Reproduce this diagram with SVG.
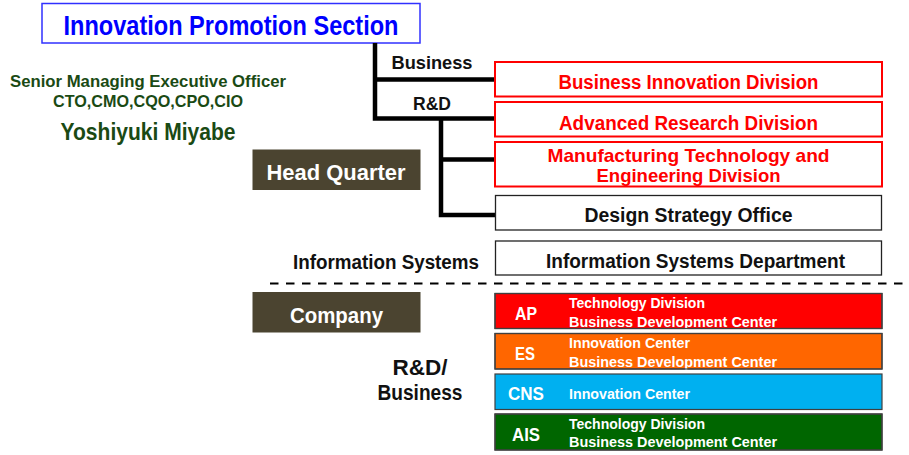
<svg xmlns="http://www.w3.org/2000/svg" width="909" height="455" viewBox="0 0 909 455">
<style>
text{font-family:"Liberation Sans",Arial,sans-serif;font-weight:bold;}
.c{text-anchor:middle;}
.red{fill:#ff0000;}
.blk{fill:#111;}
.wht{fill:#fff;}
.grn{fill:#1a4a14;}
.rbox{fill:#fff;stroke:#ff0000;stroke-width:2;}
.kbox{fill:#fff;stroke:#222;stroke-width:1.3;}
.brown{fill:#4b4430;}
.co{stroke:#404040;stroke-width:1.2;}
.conn{fill:none;stroke:#000;stroke-width:4.5;stroke-linejoin:miter;}
</style>
<rect width="909" height="455" fill="#fff"/>
<g id="top">
<rect x="42" y="3.5" width="378" height="39.5" fill="#fff" stroke="#3030ff" stroke-width="1.5"/>
<text x="231" y="35" class="c" font-size="27" fill="#0000ff" textLength="335" lengthAdjust="spacingAndGlyphs">Innovation Promotion Section</text>
</g>
<g id="officer">
<text x="148" y="87" class="c grn" font-size="17" textLength="276" lengthAdjust="spacingAndGlyphs">Senior Managing Executive Officer</text>
<text x="148" y="107" class="c grn" font-size="17" textLength="190" lengthAdjust="spacingAndGlyphs">CTO,CMO,CQO,CPO,CIO</text>
<text x="148" y="140" class="c grn" font-size="24" textLength="175" lengthAdjust="spacingAndGlyphs">Yoshiyuki Miyabe</text>
</g>
<g id="connectors">
<path class="conn" d="M375,43 V118.5 H495"/>
<path class="conn" d="M375,79.5 H495"/>
<path class="conn" d="M441,118.5 V215 H495"/>
<path class="conn" d="M441,159.5 H495"/>
</g>
<g id="labels">
<text x="432" y="69" class="c blk" font-size="19" textLength="81" lengthAdjust="spacingAndGlyphs">Business</text>
<text x="432" y="110" class="c blk" font-size="19" textLength="38" lengthAdjust="spacingAndGlyphs">R&amp;D</text>
<text x="386" y="269" class="c blk" font-size="20" textLength="186" lengthAdjust="spacingAndGlyphs">Information Systems</text>
<text x="420" y="375" class="c blk" font-size="22" textLength="55" lengthAdjust="spacingAndGlyphs">R&amp;D/</text>
<text x="420" y="400" class="c blk" font-size="22" textLength="85" lengthAdjust="spacingAndGlyphs">Business</text>
</g>
<g id="headquarter">
<rect x="252.5" y="149.5" width="168" height="40.5" class="brown"/>
<text x="336" y="180" class="c wht" font-size="22" textLength="139" lengthAdjust="spacingAndGlyphs">Head Quarter</text>
</g>
<g id="company">
<rect x="252.5" y="292" width="168" height="40.5" class="brown"/>
<text x="336.5" y="323" class="c wht" font-size="22" textLength="93" lengthAdjust="spacingAndGlyphs">Company</text>
</g>
<g id="business-innovation">
<rect x="495" y="62" width="387" height="34.5" class="rbox"/>
<text x="688.5" y="89" class="c red" font-size="20" textLength="260" lengthAdjust="spacingAndGlyphs">Business Innovation Division</text>
</g>
<g id="advanced-research">
<rect x="495" y="102" width="387" height="34.5" class="rbox"/>
<text x="688.5" y="130" class="c red" font-size="20" textLength="259" lengthAdjust="spacingAndGlyphs">Advanced Research Division</text>
</g>
<g id="manufacturing">
<rect x="495" y="142" width="387" height="44.5" class="rbox"/>
<text x="688.5" y="161.5" class="c red" font-size="18.5" textLength="282" lengthAdjust="spacingAndGlyphs">Manufacturing Technology and</text>
<text x="688.5" y="181.5" class="c red" font-size="18.5" textLength="184" lengthAdjust="spacingAndGlyphs">Engineering Division</text>
</g>
<g id="design-strategy">
<rect x="495.5" y="195.5" width="386" height="34.5" class="kbox"/>
<text x="688.5" y="222" class="c blk" font-size="20" textLength="208" lengthAdjust="spacingAndGlyphs">Design Strategy Office</text>
</g>
<g id="information-systems">
<rect x="495.5" y="241" width="386" height="34" class="kbox"/>
<text x="695.5" y="268" class="c blk" font-size="20" textLength="299" lengthAdjust="spacingAndGlyphs">Information Systems Department</text>
</g>
<line x1="270" y1="283.5" x2="909" y2="283.5" stroke="#000" stroke-width="2" stroke-dasharray="8.5 7.5"/>
<g id="ap">
<rect x="495" y="293.5" width="387" height="35" fill="#ff0000" class="co"/>
<text x="526" y="320" class="c wht" font-size="18" textLength="22" lengthAdjust="spacingAndGlyphs">AP</text>
<text x="569" y="308" class="wht" font-size="14" textLength="136" lengthAdjust="spacingAndGlyphs">Technology Division</text>
<text x="569" y="327" class="wht" font-size="14" textLength="208" lengthAdjust="spacingAndGlyphs">Business Development Center</text>
<rect x="495" y="293.5" width="387" height="35" fill="none" class="co"/>
</g>
<g id="es">
<rect x="495" y="333.5" width="387" height="35.5" fill="#ff6600" class="co"/>
<text x="525" y="360" class="c wht" font-size="18" textLength="20" lengthAdjust="spacingAndGlyphs">ES</text>
<text x="569" y="348" class="wht" font-size="14" textLength="121" lengthAdjust="spacingAndGlyphs">Innovation Center</text>
<text x="569" y="367" class="wht" font-size="14" textLength="208" lengthAdjust="spacingAndGlyphs">Business Development Center</text>
<rect x="495" y="333.5" width="387" height="35.5" fill="none" class="co"/>
</g>
<g id="cns">
<rect x="495" y="374" width="387" height="35.5" fill="#00b0f0" class="co"/>
<text x="526" y="400" class="c wht" font-size="18" textLength="36" lengthAdjust="spacingAndGlyphs">CNS</text>
<text x="569" y="399" class="wht" font-size="14" textLength="121" lengthAdjust="spacingAndGlyphs">Innovation Center</text>
</g>
<g id="ais">
<rect x="495" y="414" width="387" height="36" fill="#006600" class="co"/>
<text x="526" y="441" class="c wht" font-size="18" textLength="28" lengthAdjust="spacingAndGlyphs">AIS</text>
<text x="569" y="429" class="wht" font-size="14" textLength="136" lengthAdjust="spacingAndGlyphs">Technology Division</text>
<text x="569" y="447" class="wht" font-size="14" textLength="208" lengthAdjust="spacingAndGlyphs">Business Development Center</text>
<rect x="495" y="414" width="387" height="36" fill="none" class="co"/>
</g>
</svg>
